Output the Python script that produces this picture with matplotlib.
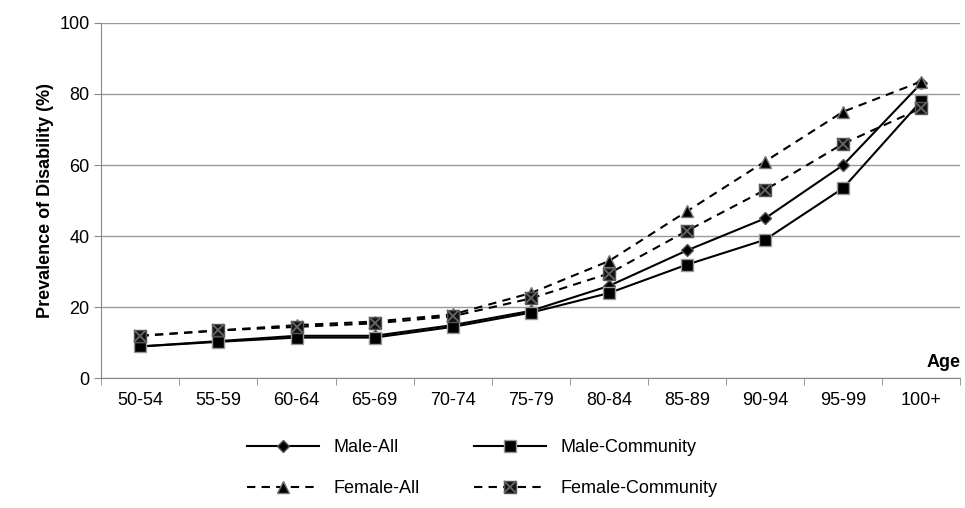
import matplotlib.pyplot as plt
from matplotlib.lines import Line2D

ages = ["50-54", "55-59", "60-64", "65-69", "70-74", "75-79", "80-84", "85-89", "90-94", "95-99", "100+"]
male_all = [9, 10.5, 12, 12, 15, 19, 26, 36, 45, 60, 83]
male_comm = [9, 10.3, 11.5, 11.5, 14.5, 18.5, 24, 32, 39, 53.5, 78]
female_all = [12, 13.5, 15, 16, 18, 24, 33, 47, 61, 75, 83.5]
female_comm = [12, 13.5, 14.5, 15.5, 17.5, 22.5, 29.5, 41.5, 53, 66, 76]

plt.rcParams['font.family'] = ['Liberation Sans', 'DejaVu Sans']
fig = plt.figure(figsize=(9.65, 5.08), dpi=100)
ax = fig.add_axes([0.105, 0.255, 0.89, 0.70])
x = list(range(len(ages)))

ma_style = dict(color='black', lw=1.5, marker='D', ms=6, mfc='black', mec='#555555')
mc_style = dict(color='black', lw=1.5, marker='s', ms=8, mfc='black', mec='#999999')
fa_style = dict(color='black', lw=1.5, ls=(0, (4, 3)), marker='^', ms=8, mfc='black', mec='#777777')
fc_style = dict(color='black', lw=1.5, ls=(0, (4, 3)), marker='s', ms=9, mfc='#111111', mec='#555555')

ax.plot(x, male_all, **ma_style)
ax.plot(x, male_comm, **mc_style)
ax.plot(x, female_all, **fa_style)
ax.plot(x, female_comm, **fc_style)
ax.plot(x, female_comm, ls='none', marker='x', ms=8, mec='#666666', mew=1.3)

ax.set_ylim(0, 100)
ax.set_xlim(-0.5, len(ages) - 0.5)
ax.set_yticks([0, 20, 40, 60, 80, 100])
ax.set_xticks(x)
ax.set_xticklabels(ages)
ax.set_xticks([i - 0.5 for i in range(len(ages) + 1)], minor=True)
ax.tick_params(axis='x', which='major', length=0, labelsize=13, pad=10)
ax.tick_params(axis='x', which='minor', length=5, color='#888888')
ax.tick_params(axis='y', labelsize=13, length=5, color='#888888')
ax.grid(axis='y', color='#999999', lw=1)
ax.set_axisbelow(True)
for s in ['top', 'right']:
    ax.spines[s].set_visible(False)
for s in ['left', 'bottom']:
    ax.spines[s].set_color('#888888')
ax.set_ylabel('Prevalence of Disability (%)', fontsize=13, fontweight='bold')
ax.text(1.0, 0.02, 'Age', transform=ax.transAxes, ha='right', va='bottom', fontsize=13, fontweight='bold')

h_ma = Line2D([], [], **ma_style)
h_mc = Line2D([], [], **mc_style)
h_fa = Line2D([], [], **fa_style)
h_fc = (Line2D([], [], **fc_style), Line2D([], [], ls='none', marker='x', ms=8, mec='#666666', mew=1.3))
fig.legend([h_ma, h_fa, h_mc, h_fc], ['Male-All', 'Female-All', 'Male-Community', 'Female-Community'],
           loc='lower center', bbox_to_anchor=(0.5, -0.01), ncol=2, frameon=False,
           fontsize=13, handlelength=4, columnspacing=3, labelspacing=1.3)

fig.savefig('out.png', dpi=100)
